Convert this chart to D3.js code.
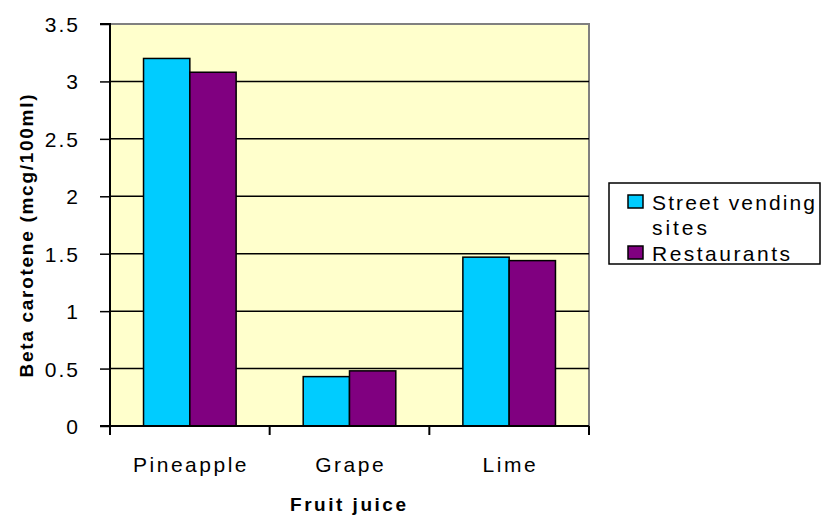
<!DOCTYPE html>
<html><head><meta charset="utf-8">
<script src="https://cdn.jsdelivr.net/npm/d3@7"></script>
<style>body{margin:0;background:#fff;} svg{display:block;font-family:Arial,"Liberation Sans",sans-serif;}</style>
</head><body>
<svg id="c" width="822" height="522"></svg>
<script>
const categories = ["Pineapple", "Grape", "Lime"];
const seriesNames = ["Street vending sites", "Restaurants"];
const streetValues = [3.2, 0.43, 1.47];
const restaurantValues = [3.08, 0.48, 1.44];
const yTicks = [0, 0.5, 1, 1.5, 2, 2.5, 3, 3.5];
const colors = ["#00CCFF", "#800080"];

const svg = d3.select("#c");
const L = 110, R = 589, T = 24, B = 426;
const x = d3.scaleBand().domain(categories).range([L, R]).paddingInner(0).paddingOuter(0);
const y = d3.scaleLinear().domain([0, 3.5]).range([B, T]);
const groupW = x.bandwidth() * 0.58;
const x1 = d3.scaleBand().domain(seriesNames).range([0, groupW]);

svg.append("rect").attr("x", L).attr("y", T).attr("width", R - L).attr("height", B - T).attr("fill", "#FFFFCC");
svg.append("path").attr("d", `M${L},${T}H${R}V${B}`).attr("fill", "none").attr("stroke", "#808080").attr("stroke-width", 2);

svg.append("g").selectAll("line").data(yTicks.filter(d => d > 0 && d < 3.5)).join("line")
  .attr("x1", L).attr("x2", R).attr("y1", d => y(d)).attr("y2", d => y(d))
  .attr("stroke", "#000").attr("stroke-width", 1.5);

const data = categories.map((c, i) => ({c, vals: [streetValues[i], restaurantValues[i]]}));
const g = svg.append("g");
data.forEach(d => {
  d.vals.forEach((v, j) => {
    g.append("rect")
      .attr("x", x(d.c) + (x.bandwidth() - groupW) / 2 + x1(seriesNames[j]))
      .attr("y", y(v)).attr("width", x1.bandwidth()).attr("height", B - y(v))
      .attr("fill", colors[j]).attr("stroke", "#000").attr("stroke-width", 1.5);
  });
});

const FONT = "Arial, 'Liberation Sans', sans-serif";
const yAxis = d3.axisLeft(y).tickValues(yTicks).tickSize(10).tickPadding(20).tickFormat(d => String(d));
const ya = svg.append("g").attr("transform", `translate(${L},0)`).call(yAxis);
ya.select(".domain").attr("stroke", "#000").attr("stroke-width", 2).attr("d", `M-10,${T}H0V${B}H-10`);
ya.selectAll(".tick line").attr("stroke", "#000").attr("stroke-width", 1.5);
ya.selectAll("text").attr("font-size", 21).attr("fill", "#000").attr("font-family", FONT)
  .attr("letter-spacing", "2px").attr("dy", "0.36em");

const xAxis = d3.axisBottom(x).tickSize(0).tickPadding(31);
const xa = svg.append("g").attr("transform", `translate(0,${B})`).call(xAxis);
xa.select(".domain").remove();
xa.append("line").attr("x1", L).attr("x2", R).attr("y1", 0).attr("y2", 0).attr("stroke", "#000").attr("stroke-width", 2);
xa.selectAll(".xt").data(d3.range(categories.length + 1)).join("line")
  .attr("x1", i => L + i * x.step()).attr("x2", i => L + i * x.step())
  .attr("y1", 0).attr("y2", 9).attr("stroke", "#000").attr("stroke-width", 2);
xa.selectAll(".tick text").attr("font-size", 21).attr("fill", "#000").attr("letter-spacing", "2.5px")
  .attr("font-family", FONT).attr("dx", "1.2px");

svg.append("text").attr("x", 348).attr("y", 511).attr("text-anchor", "middle")
  .attr("font-size", 19).attr("font-weight", "bold").attr("textLength", 116).attr("lengthAdjust", "spacing")
  .text("Fruit juice");
svg.append("text").attr("transform", "translate(33,236) rotate(-90)").attr("text-anchor", "middle")
  .attr("font-size", 19).attr("font-weight", "bold").attr("textLength", 283).attr("lengthAdjust", "spacing")
  .text("Beta carotene (mcg/100ml)");

const lg = svg.append("g");
lg.append("rect").attr("x", 609).attr("y", 183).attr("width", 211).attr("height", 81)
  .attr("fill", "#fff").attr("stroke", "#000").attr("stroke-width", 1.5);
const legendLines = [["Street vending", "sites"], ["Restaurants"]];
const swY = [195, 246];
seriesNames.forEach((s, i) => {
  lg.append("rect").attr("x", 628).attr("y", swY[i]).attr("width", 15).attr("height", 13)
    .attr("fill", colors[i]).attr("stroke", "#000").attr("stroke-width", 1.5);
});
const t1 = lg.append("text").attr("font-size", 21).attr("fill", "#000");
t1.append("tspan").attr("x", 652).attr("y", 210).attr("textLength", 163).attr("lengthAdjust", "spacing").text(legendLines[0][0]);
t1.append("tspan").attr("x", 652).attr("y", 235).attr("textLength", 55).attr("lengthAdjust", "spacing").text(legendLines[0][1]);
lg.append("text").attr("font-size", 21).attr("x", 652).attr("y", 261).attr("textLength", 138).attr("lengthAdjust", "spacing").text(legendLines[1][0]);
</script>
</body></html>
